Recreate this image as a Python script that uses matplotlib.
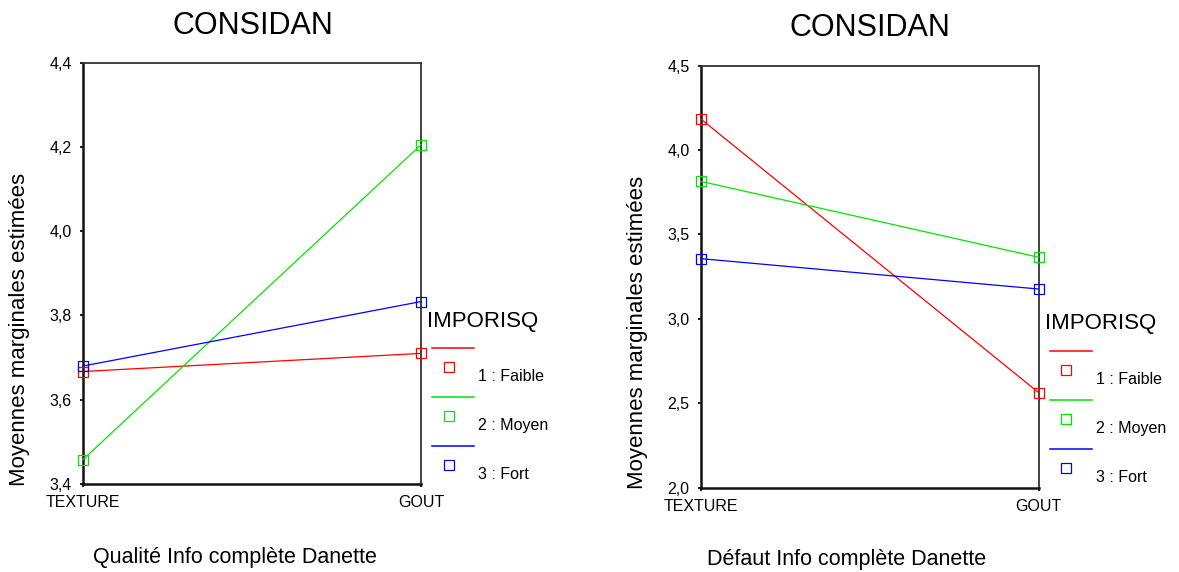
import matplotlib
matplotlib.use("Agg")
import matplotlib.pyplot as plt
from matplotlib.lines import Line2D

plt.rcParams['font.family'] = ['Liberation Sans', 'DejaVu Sans']

# estimated marginal means, two occasions per group
occasions = ["TEXTURE", "GOUT"]
groups = ["1 : Faible", "2 : Moyen", "3 : Fort"]
colors = ["#ff0000", "#00e600", "#0000ff"]

qualite_faible = [3.667, 3.710]
qualite_moyen = [3.458, 4.205]
qualite_fort = [3.680, 3.833]

defaut_faible = [4.185, 2.563]
defaut_moyen = [3.815, 3.365]
defaut_fort = [3.357, 3.177]

qualite_yticks = [3.4, 3.6, 3.8, 4.0, 4.2, 4.4]
defaut_yticks = [2.0, 2.5, 3.0, 3.5, 4.0, 4.5]

W, H = 1179, 572
fig = plt.figure(figsize=(W / 100, H / 100), dpi=100)


def px_box(x0, y0, x1, y1):
    return [x0 / W, 1 - y1 / H, (x1 - x0) / W, (y1 - y0) / H]


def fx(x):
    return x / W


def fy(y):
    return 1 - y / H


def draw_panel(box, series, yticks, ylim, title_x, title_y, xlab, xlab_x, xlab_y,
               ylab_x, ylab_y):
    ax = fig.add_axes(px_box(*box))
    xs = list(range(len(occasions)))
    for vals, col in zip(series, colors):
        ax.plot(xs, vals, color=col, lw=0.9, marker='s', ms=7,
                mfc='none', mec=col, mew=0.9, clip_on=False, zorder=3)
    ax.set_xlim(0, 1)
    ax.set_ylim(*ylim)
    ax.set_xticks(xs)
    ax.set_xticklabels(occasions, fontsize=11.5)
    ax.set_yticks(yticks)
    ax.set_yticklabels([f"{v:.1f}".replace(".", ",") for v in yticks], fontsize=11.5)
    ax.tick_params(axis='both', direction='out', length=2, width=1.5, color='#222222')
    ax.tick_params(axis='y', pad=6)
    ax.tick_params(axis='x', pad=6)
    for side in ['left', 'bottom']:
        ax.spines[side].set_linewidth(1.8)
        ax.spines[side].set_color('#111111')
    for side in ['top', 'right']:
        ax.spines[side].set_linewidth(1.3)
        ax.spines[side].set_color('#333333')
    fig.text(fx(title_x), fy(title_y), "CONSIDAN", fontsize=22,
             ha='center', va='center')
    fig.text(fx(xlab_x), fy(xlab_y), xlab, fontsize=15.5, ha='center', va='center')
    fig.text(fx(ylab_x), fy(ylab_y), "Moyennes marginales estimées", fontsize=16,
             rotation=90, ha='center', va='center')
    return ax


def draw_legend(x_title, y_title, x_line0, x_line1, x_mark, x_lab, y_line0, step):
    fig.text(fx(x_title), fy(y_title), "IMPORISQ", fontsize=16,
             ha='left', va='center')
    for i, (name, col) in enumerate(zip(groups, colors)):
        yl = y_line0 + i * step
        fig.add_artist(Line2D([fx(x_line0), fx(x_line1)], [fy(yl), fy(yl)],
                              color=col, lw=1.1, transform=fig.transFigure))
        fig.add_artist(Line2D([fx(x_mark)], [fy(yl + 19.5)], marker='s', ms=6.5,
                              mfc='none', mec=col, mew=0.9, lw=0,
                              transform=fig.transFigure))
        fig.text(fx(x_lab), fy(yl + 29), name, fontsize=11.5, ha='left', va='center')


draw_panel((83, 62.7, 421, 484),
           [qualite_faible, qualite_moyen, qualite_fort],
           qualite_yticks, (3.4, 4.4),
           253, 26, "Qualité Info complète Danette", 235, 557, 20, 329)
draw_legend(427, 321, 432, 474, 449, 478, 347.7, 49)

draw_panel((700.7, 65.7, 1038.7, 487.7),
           [defaut_faible, defaut_moyen, defaut_fort],
           defaut_yticks, (2.0, 4.5),
           870, 28, "Défaut Info complète Danette", 847, 559, 638, 332)
draw_legend(1045, 323, 1050, 1092, 1066, 1096, 350.7, 49)

fig.savefig("out.png", dpi=100)
